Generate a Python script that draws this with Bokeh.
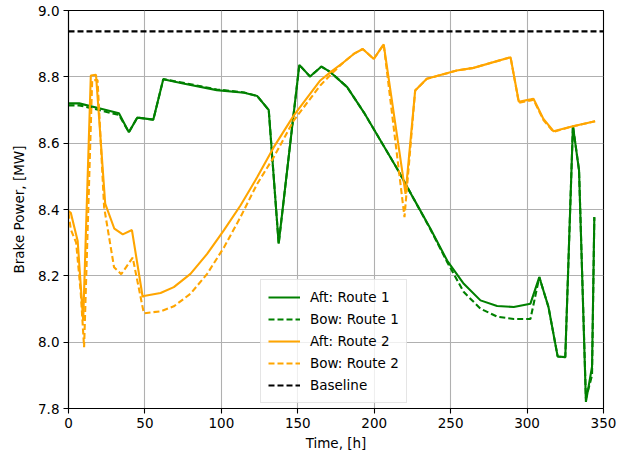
from bokeh.plotting import figure
from bokeh.models import FixedTicker, Legend, LegendItem, CustomJSTickFormatter
from bokeh.embed import file_html
from bokeh.resources import INLINE

# ---- data ----
t_r1 = [0, 7, 20, 33, 39.5, 45, 55.5, 62, 75, 97, 115, 123.5, 131, 137.5, 151, 158, 165.5,
        171.4, 182.3, 193.2, 204.1, 215, 225.9, 236.8, 247.7, 258.6, 269.5, 280.4, 291.3,
        302.2, 308, 314, 320, 325, 330, 334, 338.5, 342.5, 344]
aft_r1 = [8.72, 8.72, 8.705, 8.69, 8.633, 8.677, 8.671, 8.793, 8.78, 8.76, 8.752, 8.742,
          8.70, 8.297, 8.836, 8.801, 8.831,
          8.814, 8.769, 8.693, 8.608, 8.523, 8.432, 8.342, 8.246, 8.176, 8.126, 8.109, 8.106,
          8.116, 8.196, 8.106, 7.957, 7.955, 8.652, 8.518, 7.82, 7.926, 8.377]
bow_r1 = [8.714, 8.714, 8.70, 8.685, 8.633, 8.677, 8.671, 8.793, 8.782, 8.762, 8.753, 8.742,
          8.70, 8.297, 8.836, 8.801, 8.831,
          8.814, 8.769, 8.693, 8.608, 8.523, 8.432, 8.340, 8.242, 8.151, 8.101, 8.077, 8.070,
          8.070, 8.196, 8.106, 7.957, 7.955, 8.652, 8.518, 7.83, 7.90, 8.377]

t_r2_aft = [0, 1.5, 6, 9.6, 14.6, 18, 24, 30, 35.5, 41.5, 48.5, 49.3, 60.2, 68.9, 79.8, 90.7,
            101.6, 112.5, 123.4, 134.3, 147.3, 164.7, 171.4, 180, 186.6, 192.5, 199.7, 206.2,
            220.5, 226.8, 234.4, 254, 265, 289.2, 294.6, 302.4, 304.2, 310.7, 317.3, 329.3, 344.5]
aft_r2 = [8.395, 8.39, 8.305, 8.065, 8.804, 8.806, 8.418, 8.342, 8.325, 8.338, 8.137, 8.139,
          8.148, 8.166, 8.206, 8.266, 8.337, 8.412, 8.497, 8.588, 8.683, 8.789, 8.814, 8.844,
          8.869, 8.884, 8.854, 8.898, 8.447, 8.759, 8.794, 8.819, 8.827, 8.859, 8.725, 8.732,
          8.734, 8.673, 8.636, 8.650, 8.666]

t_r2_bow = [0, 1.5, 5, 8, 10.2, 15.5, 19, 23.3, 29.8, 34.5, 42, 49.3, 60.2, 68.9, 79.8, 90.7,
            101.6, 112.5, 123.4, 134.3, 147.3, 164.7, 171.4, 180, 186.6, 192.5, 199.7, 206.2,
            219.8, 226.8, 234.4, 254, 265, 289.2, 294.6, 302.4, 304.2, 310.7, 317.3, 329.3, 344.5]
bow_r2 = [8.39, 8.34, 8.30, 8.15, 7.985, 8.79, 8.79, 8.407, 8.226, 8.205, 8.255, 8.087,
          8.093, 8.108, 8.146, 8.206, 8.285, 8.377, 8.477, 8.558, 8.668, 8.774, 8.806, 8.844,
          8.869, 8.884, 8.854, 8.898, 8.377, 8.759, 8.794, 8.819, 8.827, 8.859, 8.722, 8.729,
          8.731, 8.67, 8.634, 8.650, 8.666]

baseline = 8.937
x_lim = (0, 350)
y_lim = (7.8, 9.0)
x_ticks = [0, 50, 100, 150, 200, 250, 300, 350]
y_ticks = [7.8, 8.0, 8.2, 8.4, 8.6, 8.8, 9.0]

FONT = "DejaVu Sans"
FS = "13.5px"

p = figure(width=633, height=459, x_range=x_lim, y_range=y_lim,
           output_backend="svg", toolbar_location=None,
           min_border_left=68, min_border_right=30, min_border_top=10, min_border_bottom=51)

p.background_fill_color = "white"
p.border_fill_color = "white"
p.outline_line_color = "black"
p.outline_line_width = 1.1

for g in (p.xgrid, p.ygrid):
    g.grid_line_color = "#b0b0b0"
    g.grid_line_width = 1.1

p.xaxis.ticker = FixedTicker(ticks=x_ticks)
p.yaxis.ticker = FixedTicker(ticks=y_ticks)
p.yaxis.formatter = CustomJSTickFormatter(code="return tick.toFixed(1);")
p.xaxis.formatter = CustomJSTickFormatter(code="return tick.toFixed(0);")

for ax in (p.xaxis, p.yaxis):
    ax.axis_line_color = "black"
    ax.axis_line_width = 1.1
    ax.major_tick_line_color = "black"
    ax.major_tick_line_width = 1.1
    ax.major_tick_out = 5
    ax.major_tick_in = 0
    ax.minor_tick_line_color = None
    ax.major_label_text_font = FONT
    ax.major_label_text_font_size = FS
    ax.major_label_text_color = "black"
    ax.axis_label_text_font = FONT
    ax.axis_label_text_font_size = FS
    ax.axis_label_text_font_style = "normal"
    ax.axis_label_text_color = "black"

p.xaxis.axis_label = "Time, [h]"
p.yaxis.axis_label = "Brake Power, [MW]"
p.xaxis.major_label_standoff = 4
p.yaxis.major_label_standoff = 4
p.xaxis.axis_label_standoff = 4
p.yaxis.axis_label_standoff = 8

W = 2.1
DASH = "6 3"
r1 = p.line(t_r1, aft_r1, line_color="green", line_width=W)
r2 = p.line(t_r1, bow_r1, line_color="green", line_width=W, line_dash=DASH)
r3 = p.line(t_r2_aft, aft_r2, line_color="orange", line_width=W)
r4 = p.line(t_r2_bow, bow_r2, line_color="orange", line_width=W, line_dash=DASH)
r5 = p.line(list(x_lim), [baseline, baseline], line_color="black", line_width=W, line_dash=DASH)

legend = Legend(items=[
    LegendItem(label="Aft: Route 1", renderers=[r1]),
    LegendItem(label="Bow: Route 1", renderers=[r2]),
    LegendItem(label="Aft: Route 2", renderers=[r3]),
    LegendItem(label="Bow: Route 2", renderers=[r4]),
    LegendItem(label="Baseline", renderers=[r5]),
], location=(192, 5))
legend.label_text_font = FONT
legend.label_text_font_size = FS
legend.label_text_color = "black"
legend.glyph_width = 32
legend.glyph_height = 20
legend.label_height = 20
legend.label_standoff = 10
legend.spacing = 2
legend.padding = 7
legend.margin = 0
legend.border_line_color = "#cccccc"
legend.border_line_width = 1
legend.background_fill_color = "white"
legend.background_fill_alpha = 0.8
p.add_layout(legend)

open("out.html", "w").write(file_html(p, INLINE))
